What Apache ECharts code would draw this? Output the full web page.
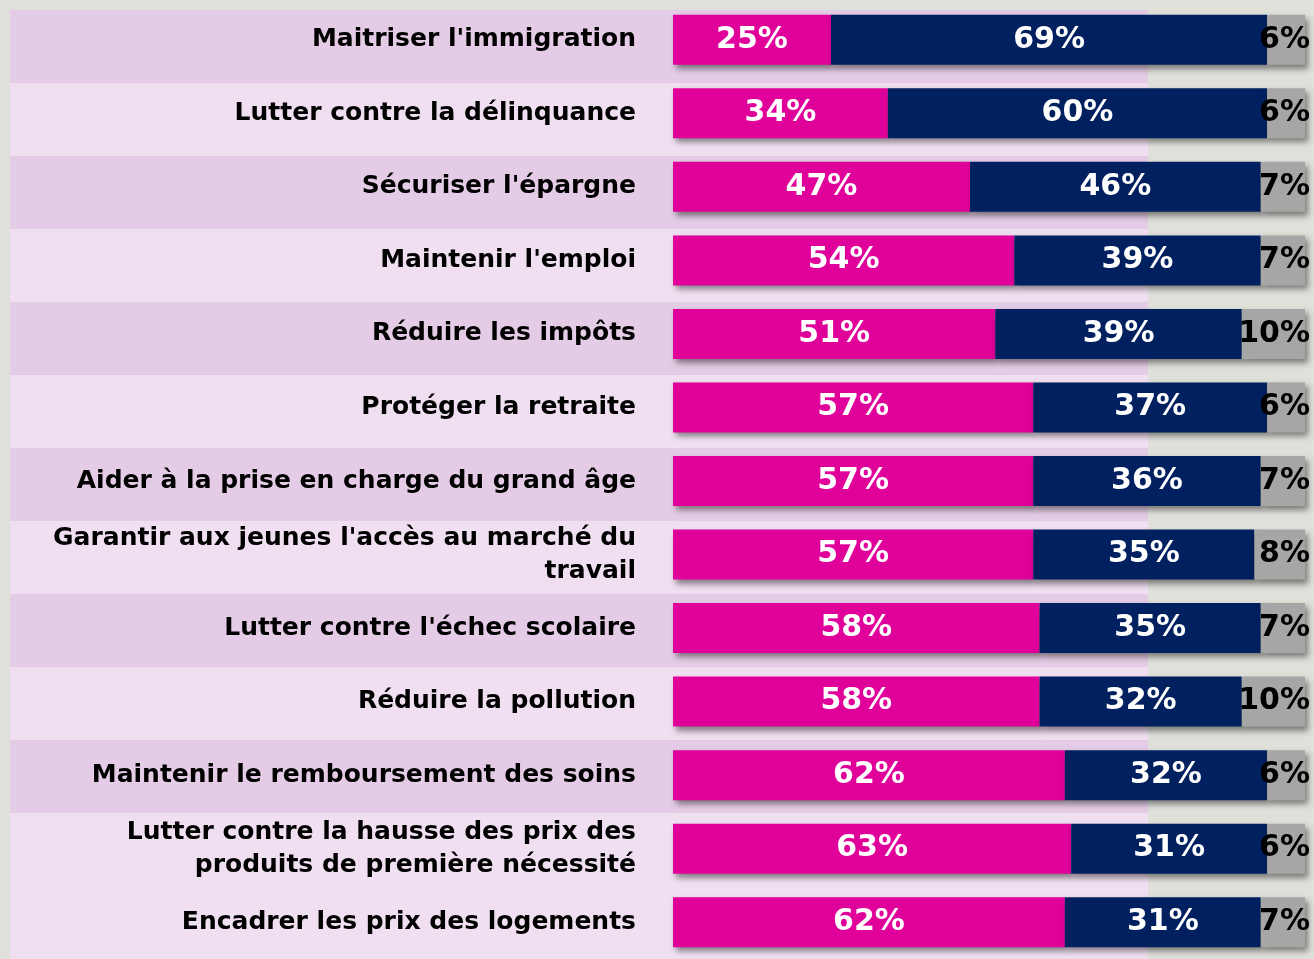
<!DOCTYPE html>
<html>
<head>
<meta charset="utf-8">
<script src="https://cdn.jsdelivr.net/npm/echarts@6/dist/echarts.min.js"></script>
<style>
  html, body { margin: 0; padding: 0; background: #dfe0da; }
  #chart { width: 1314px; height: 959px; }
</style>
</head>
<body>
<div id="chart"></div>
<script>
const categories = [
  "Maitriser l'immigration",
  'Lutter contre la délinquance',
  "Sécuriser l'épargne",
  "Maintenir l'emploi",
  'Réduire les impôts',
  'Protéger la retraite',
  'Aider à la prise en charge du grand âge',
  "Garantir aux jeunes l'accès au marché du\ntravail",
  "Lutter contre l'échec scolaire",
  'Réduire la pollution',
  'Maintenir le remboursement des soins',
  'Lutter contre la hausse des prix des\nproduits de première nécessité',
  'Encadrer les prix des logements',
]
const pinkValues = [25, 34, 47, 54, 51, 57, 57, 57, 58, 58, 62, 63, 62]
const navyValues = [69, 60, 46, 39, 39, 37, 36, 35, 35, 32, 32, 31, 31]
const grayValues = [6, 6, 7, 7, 10, 6, 7, 8, 7, 10, 6, 6, 7]

// row stripes (last two rows share the light colour)
const dark = '#e5cce6'
const light = '#f0dff0'
const stripeColors = [dark, light, dark, light, dark, light, dark, light, dark, light, dark, light, light]

const font = 'DejaVu Sans'
const shadow = {
  shadowColor: 'rgba(0,0,0,0.45)',
  shadowBlur: 6,
  shadowOffsetX: 3,
  shadowOffsetY: 4,
}

const chart = echarts.init(document.getElementById('chart'))
chart.setOption({
  backgroundColor: '#dfe0da',
  animation: false,
  grid: [
    { left: 10, right: 166, top: 10, bottom: 0 },
    { left: 673, right: 9, top: 3, height: 964 },
  ],
  xAxis: [
    { gridIndex: 0, type: 'value', show: false, min: 0, max: 1 },
    { gridIndex: 1, type: 'value', show: false, min: 0, max: 100 },
  ],
  yAxis: [
    {
      gridIndex: 0,
      type: 'category',
      inverse: true,
      data: categories,
      axisLine: { show: false },
      axisTick: { show: false },
      axisLabel: { show: false },
      splitArea: { show: true, areaStyle: { color: stripeColors } },
    },
    {
      gridIndex: 1,
      type: 'category',
      inverse: true,
      data: categories,
      axisLine: { show: false },
      axisTick: { show: false },
      axisLabel: {
        margin: 37,
        fontFamily: font,
        fontWeight: 'bold',
        fontSize: 25,
        lineHeight: 33,
        color: '#000',
        align: 'right',
      },
    },
  ],
  series: [
    {
      name: 'oui',
      type: 'bar',
      xAxisIndex: 1,
      yAxisIndex: 1,
      stack: 'total',
      barWidth: 50,
      data: pinkValues,
      itemStyle: Object.assign({ color: '#e0009a' }, shadow),
      label: {
        show: true,
        position: 'inside',
        formatter: '{c}%',
        color: '#fff',
        fontFamily: font,
        fontWeight: 'bold',
        fontSize: 30,
      },
    },
    {
      name: 'non',
      type: 'bar',
      xAxisIndex: 1,
      yAxisIndex: 1,
      stack: 'total',
      barWidth: 50,
      data: navyValues,
      itemStyle: Object.assign({ color: '#00205f' }, shadow),
      label: {
        show: true,
        position: 'inside',
        formatter: '{c}%',
        color: '#fff',
        fontFamily: font,
        fontWeight: 'bold',
        fontSize: 30,
      },
    },
    {
      name: 'nsp',
      type: 'bar',
      xAxisIndex: 1,
      yAxisIndex: 1,
      stack: 'total',
      barWidth: 50,
      data: grayValues,
      itemStyle: Object.assign({ color: '#a6a6a6' }, shadow),
      label: {
        show: true,
        position: 'insideRight',
        distance: -5,
        formatter: '{c}%',
        color: '#000',
        fontFamily: font,
        fontWeight: 'bold',
        fontSize: 30,
      },
    },
  ],
})
</script>
</body>
</html>
